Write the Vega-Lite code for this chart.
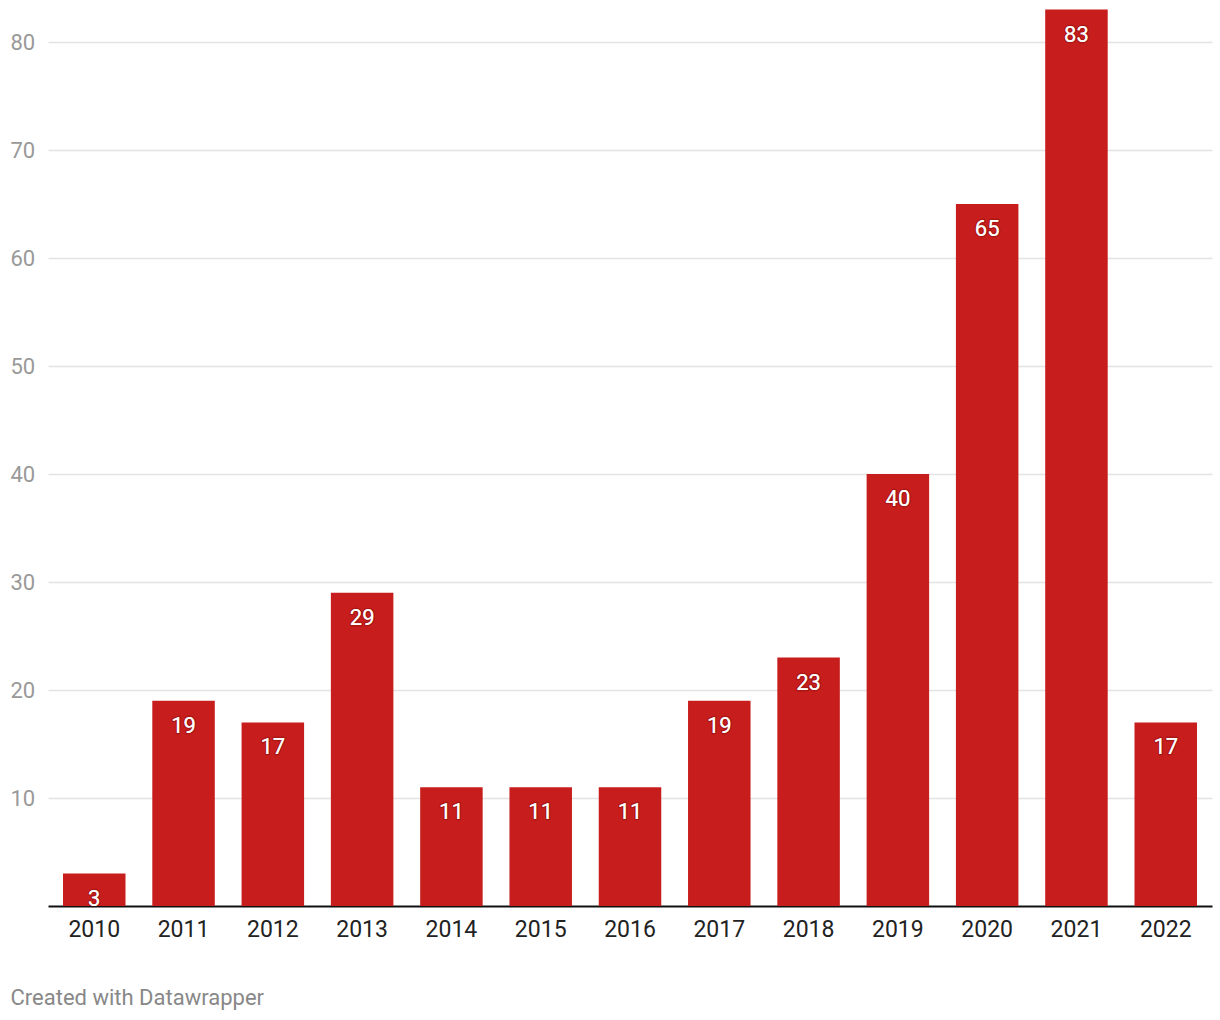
{
  "$schema": "https://vega.github.io/schema/vega-lite/v6.json",
  "width": 1164,
  "height": 906,
  "autosize": {"type": "none"},
  "padding": {"left": 48, "top": 0, "right": 8, "bottom": 114},
  "background": "#ffffff",
  "config": {
    "font": "Roboto",
    "view": {"stroke": null}
  },
  "data": {
    "values": [
      {"year": "2010", "count": 3},
      {"year": "2011", "count": 19},
      {"year": "2012", "count": 17},
      {"year": "2013", "count": 29},
      {"year": "2014", "count": 11},
      {"year": "2015", "count": 11},
      {"year": "2016", "count": 11},
      {"year": "2017", "count": 19},
      {"year": "2018", "count": 23},
      {"year": "2019", "count": 40},
      {"year": "2020", "count": 65},
      {"year": "2021", "count": 83},
      {"year": "2022", "count": 17}
    ]
  },
  "encoding": {
    "x": {
      "field": "year",
      "type": "ordinal",
      "sort": null,
      "scale": {"paddingInner": 0.3, "paddingOuter": 0.168},
      "axis": {
        "labelAngle": 0,
        "labelFont": "Roboto",
        "labelFontSize": 23,
        "labelColor": "#222222",
        "labelPadding": 12,
        "ticks": false,
        "domain": true,
        "domainColor": "#111111",
        "domainWidth": 2,
        "grid": false,
        "title": "Created with Datawrapper",
        "titleFont": "Roboto",
        "titleFontSize": 22,
        "titleFontWeight": "normal",
        "titleColor": "#888888",
        "titleAnchor": "start",
        "titleAlign": "left",
        "titleBaseline": "middle",
        "titleX": -38,
        "titleY": 91
      }
    },
    "y": {
      "field": "count",
      "type": "quantitative",
      "scale": {"domain": [0, 83.89], "nice": false},
      "axis": {
        "values": [10, 20, 30, 40, 50, 60, 70, 80],
        "labelFont": "Roboto",
        "labelFontSize": 22,
        "labelColor": "#999999",
        "labelAlign": "left",
        "labelBaseline": "middle",
        "labelPadding": 38,
        "ticks": false,
        "domain": false,
        "grid": true,
        "gridColor": "#e3e3e3",
        "gridWidth": 1.5,
        "title": null
      }
    }
  },
  "layer": [
    {
      "mark": {"type": "bar", "color": "#c71e1d"}
    },
    {
      "mark": {
        "type": "text",
        "baseline": "middle",
        "dy": 25,
        "fontSize": 22,
        "font": "Roboto",
        "color": "#ffffff",
        "stroke": "#5a0000",
        "strokeWidth": 3,
        "strokeOpacity": 0.25,
        "strokeJoin": "round"
      },
      "encoding": {"text": {"field": "count", "type": "quantitative"}}
    },
    {
      "mark": {
        "type": "text",
        "baseline": "middle",
        "dy": 25,
        "fontSize": 22,
        "font": "Roboto",
        "color": "#ffffff"
      },
      "encoding": {"text": {"field": "count", "type": "quantitative"}}
    }
  ]
}
